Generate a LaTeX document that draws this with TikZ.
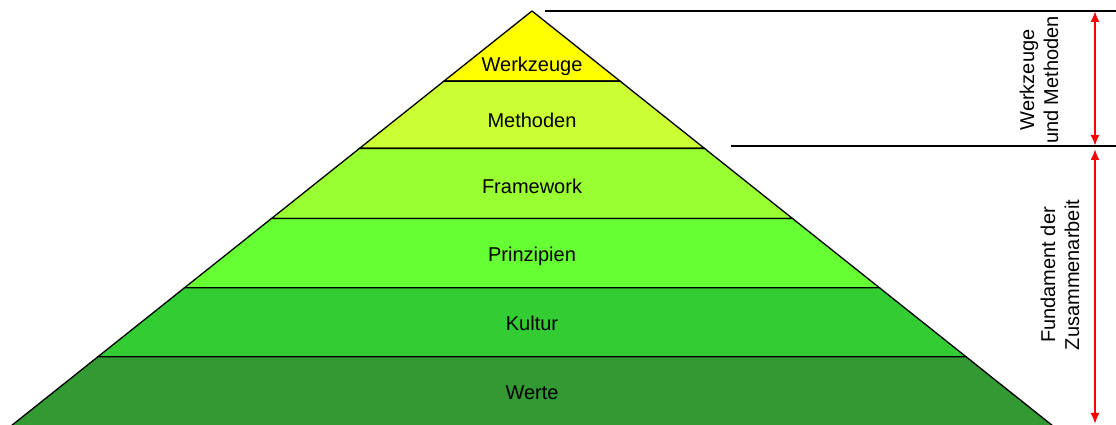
\documentclass[tikz,border=0pt]{standalone}
\usepackage{fontspec}
\setmainfont{Liberation Sans}
\usetikzlibrary{calc}
\usetikzlibrary{arrows.meta}
\definecolor{stufeA}{RGB}{255,255,0}
\definecolor{stufeB}{RGB}{204,255,51}
\definecolor{stufeC}{RGB}{153,255,51}
\definecolor{stufeD}{RGB}{102,255,51}
\definecolor{stufeE}{RGB}{51,204,51}
\definecolor{stufeF}{RGB}{51,153,51}
\tikzset{
	stufe/.style={
		draw=black, line width=1.3pt, line join=miter},
	beschriftung/.style={
		anchor=base, inner sep=0pt,
		font=\fontsize{20}{24}\selectfont},
	seitentext/.style={
		rotate=90, align=center, inner sep=0pt,
		font=\fontsize{20}{24}\selectfont},
	hilfslinie/.style={draw, line width=1.3pt},
	masspfeil/.style={draw=red, line width=2pt, {Latex[length=11pt,width=9pt]}-{Latex[length=11pt,width=9pt]}},
}

\begin{document}
\begin{tikzpicture}[x=1pt,y=1pt]
	\useasboundingbox (0,0) rectangle (1116,425);
	\coordinate (spitze) at (532,414);
	\coordinate (links) at (11,-1);
	\coordinate (rechts) at (1053,-1);
	% Schichten der Pyramide
	\foreach \name/\titel/\farbe/\oben/\unten/\ty in {
		werkzeuge/Werkzeuge/stufeA/0/0.169/353,
		methoden/Methoden/stufeB/0.169/0.331/297,
		framework/Framework/stufeC/0.331/0.5/231,
		prinzipien/Prinzipien/stufeD/0.5/0.667/163,
		kultur/Kultur/stufeE/0.667/0.833/94,
		werte/Werte/stufeF/0.833/1/25}
	{
		\filldraw[stufe, fill=\farbe] ($(spitze)!\oben!(links)$) -- ($(spitze)!\oben!(rechts)$)
			-- ($(spitze)!\unten!(rechts)$) -- ($(spitze)!\unten!(links)$) -- cycle;
		\node[beschriftung] (\name) at (532,\ty) {\titel};
	}
	% Bemassung rechts
	\coordinate (linieOa) at (545,414);
	\coordinate (linieOb) at (1116,414);
	\coordinate (linieMa) at (731,279);
	\coordinate (linieMb) at (1116,279);
	\draw[hilfslinie] (linieOa) -- (linieOb);
	\draw[hilfslinie] (linieMa) -- (linieMb);
	\coordinate (massoben) at (1095,414);
	\coordinate (massmitte) at (1095,279);
	\coordinate (massmitte2) at (1095,276);
	\coordinate (massunten) at (1095,1);
	\draw[masspfeil] (massoben) -- (massmitte);
	\draw[masspfeil] (massmitte2) -- (massunten);
	\node[seitentext] (werkzeugtext) at (1039,345) {Werkzeuge\\und Methoden};
	\node[seitentext] (fundamenttext) at (1060,150) {Fundament der\\Zusammenarbeit};
\end{tikzpicture}
\end{document}
